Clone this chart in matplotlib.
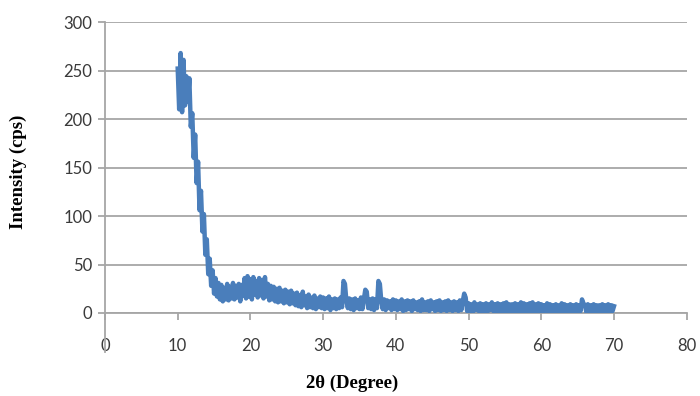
import numpy as np
import matplotlib
matplotlib.use("Agg")
import matplotlib.pyplot as plt
from matplotlib.lines import Line2D

# 2-theta scan grid (degrees), start / step
theta_start = 10.0
theta_step = 0.2

# Intensity (cps), alternating upper/lower edge of the noisy trace
intensity_10_20 = [252, 210, 268, 207, 261, 214, 244, 218, 242, 192,
                   206, 160, 184, 134, 156, 106, 126, 84, 102, 60,
                   76, 40, 56, 28, 44, 20, 36, 17, 31, 14,
                   29, 12, 26, 14, 30, 13, 27, 15, 31, 14,
                   28, 16, 30, 12, 29, 18, 36, 15, 38, 17]
intensity_20_30 = [35, 14, 37, 19, 33, 16, 36, 18, 34, 15,
                   37, 17, 30, 13, 28, 14, 27, 12, 25, 11,
                   26, 12, 23, 10, 24, 11, 22, 9, 23, 10,
                   20, 8, 21, 7, 18, 6, 22, 8, 17, 5,
                   19, 6, 16, 5, 18, 4, 15, 6, 17, 5]
intensity_30_40 = [16, 4, 15, 5, 17, 3, 14, 5, 15, 4,
                   14, 5, 16, 6, 33, 30, 12, 5, 15, 4,
                   14, 3, 15, 5, 13, 4, 16, 4, 14, 24,
                   22, 5, 14, 4, 15, 3, 14, 5, 33, 30,
                   12, 4, 14, 3, 13, 5, 12, 3, 14, 4]
intensity_40_50 = [13, 3, 12, 4, 14, 2, 12, 3, 13, 4,
                   12, 2, 13, 4, 11, 3, 12, 2, 14, 3,
                   11, 3, 12, 2, 13, 4, 11, 2, 12, 3,
                   13, 2, 11, 3, 12, 2, 13, 3, 11, 2,
                   12, 3, 11, 2, 13, 3, 12, 20, 16, 2]
intensity_50_60 = [10, 2, 9, 1, 11, 3, 9, 2, 10, 1,
                   9, 2, 10, 1, 9, 3, 11, 2, 9, 1,
                   10, 2, 9, 1, 10, 2, 11, 1, 9, 2,
                   9, 1, 10, 2, 9, 1, 11, 2, 10, 1,
                   9, 2, 10, 1, 11, 2, 9, 1, 10, 2]
intensity_60_70 = [9, 1, 8, 2, 10, 1, 9, 2, 8, 1,
                   9, 2, 8, 1, 10, 2, 9, 1, 8, 2,
                   9, 1, 8, 2, 9, 1, 8, 2, 14, 10,
                   8, 1, 9, 2, 8, 1, 9, 2, 8, 1,
                   8, 2, 9, 1, 8, 2, 9, 1, 8, 2,
                   7]

intensity = np.array(intensity_10_20 + intensity_20_30 + intensity_30_40 +
                     intensity_40_50 + intensity_50_60 + intensity_60_70, dtype=float)
two_theta = theta_start + theta_step * np.arange(len(intensity))

x_ticks = [0, 10, 20, 30, 40, 50, 60, 70, 80]
y_ticks = [0, 50, 100, 150, 200, 250, 300]

fig = plt.figure(figsize=(7.0, 3.96), dpi=100)
ax = fig.add_axes([0.15, 0.2096, 0.831, 0.7348])

grid_col = '#a6a6a6'
ax.plot(two_theta, intensity, color='#4a7ebb', lw=3.2, solid_joinstyle='round', zorder=3)

ax.set_xlim(0, 80)
ax.set_ylim(0, 300)
ax.set_xticks(x_ticks)
ax.set_yticks(y_ticks)
ax.yaxis.grid(True, color=grid_col, lw=1.3)
ax.set_axisbelow(True)

for s in ['top', 'right']:
    ax.spines[s].set_visible(False)
for s in ['left', 'bottom']:
    ax.spines[s].set_color(grid_col)
    ax.spines[s].set_linewidth(1.3)

# vertical axis line extending below the horizontal axis
ax.add_line(Line2D([0, 0], [0, -0.135], transform=ax.transAxes, color=grid_col,
                   lw=1.3, clip_on=False))

ax.tick_params(axis='both', direction='out', length=5, width=1.3, color=grid_col,
               labelsize=12, labelcolor='#3a3a3a')
ax.tick_params(axis='x', pad=13)
ax.tick_params(axis='y', pad=4)
for lab in ax.get_xticklabels() + ax.get_yticklabels():
    lab.set_family('Lato')

fig.text(0.503, 0.033, '2θ (Degree)', ha='center', va='center',
         family='Liberation Serif', fontweight='bold', fontsize=13.5)
fig.text(0.026, 0.566, 'Intensity (cps)', ha='center', va='center', rotation=90,
         family='Liberation Serif', fontweight='bold', fontsize=13.5)

fig.savefig('out.png', dpi=100)
